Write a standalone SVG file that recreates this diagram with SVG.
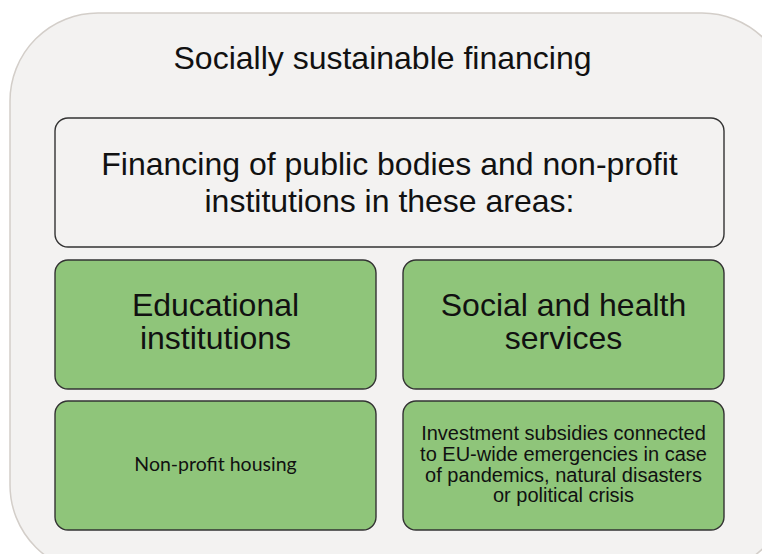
<svg xmlns="http://www.w3.org/2000/svg" width="762" height="554" viewBox="0 0 762 554">
  <style>
    .panel { fill: #f3f2f1; stroke: #d3cec9; stroke-width: 1.5; }
    .box { stroke: #333333; stroke-width: 1.4; }
    .plain { fill: #f3f2f1; }
    .green { fill: #8fc57a; }
    text { fill: #111111; text-anchor: middle; font-family: "Liberation Sans", Arial, sans-serif; }
    .big { font-size: 32px; }
    .small { font-size: 20px; }
    .alt { font-family: Lato, "Open Sans", sans-serif; font-size: 19.5px; }
  </style>
  <rect width="762" height="554" fill="#ffffff"/>

  <g id="outer">
    <rect class="panel" x="10" y="13" width="780" height="560" rx="88" ry="88"/>
    <text class="big" x="382.5" y="69">Socially sustainable financing</text>
  </g>

  <g id="scope">
    <rect class="box plain" x="55" y="118" width="669" height="129" rx="13" ry="13"/>
    <text class="big" x="389.5" y="175">Financing of public bodies and non-profit</text>
    <text class="big" x="389.5" y="212">institutions in these areas:</text>
  </g>

  <g id="education">
    <rect class="box green" x="55" y="260" width="321" height="129" rx="13" ry="13"/>
    <text class="big" x="215.5" y="316">Educational</text>
    <text class="big" x="215.5" y="349">institutions</text>
  </g>

  <g id="social-health">
    <rect class="box green" x="403" y="260" width="321" height="129" rx="13" ry="13"/>
    <text class="big" x="563.5" y="316">Social and health</text>
    <text class="big" x="563.5" y="349">services</text>
  </g>

  <g id="housing">
    <rect class="box green" x="55" y="401" width="321" height="129" rx="13" ry="13"/>
    <text class="alt" x="215.5" y="471">Non-profit housing</text>
  </g>

  <g id="emergencies">
    <rect class="box green" x="403" y="401" width="321" height="129" rx="13" ry="13"/>
    <text class="small" x="563.5" y="440">Investment subsidies connected</text>
    <text class="small" x="563.5" y="461">to EU-wide emergencies in case</text>
    <text class="small" x="563.5" y="481.5">of pandemics, natural disasters</text>
    <text class="small" x="563.5" y="502">or political crisis</text>
  </g>

  <g id="connectors"></g>
</svg>
